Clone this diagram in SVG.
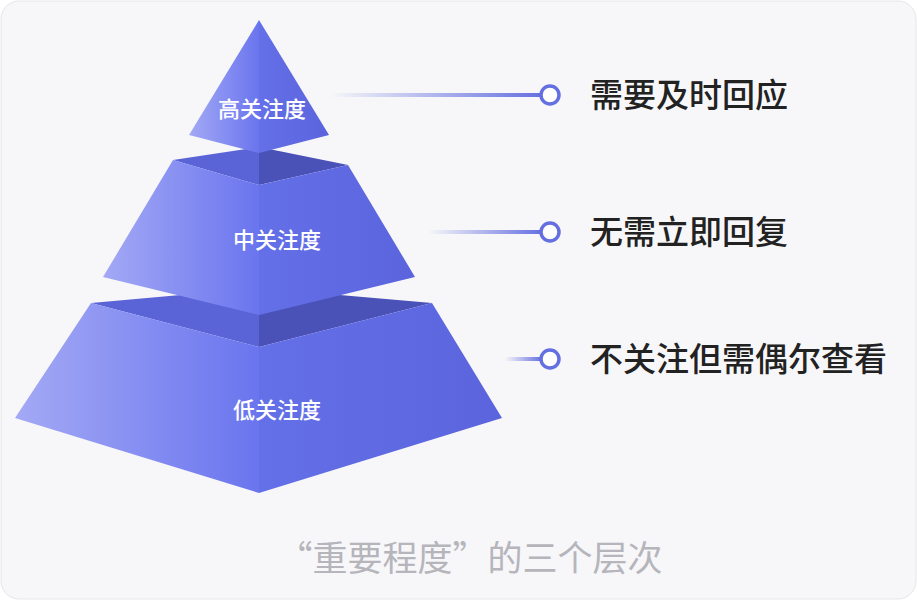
<svg xmlns="http://www.w3.org/2000/svg" width="917" height="600" viewBox="0 0 917 600">
<defs>
<linearGradient id="lf" x1="0" y1="0" x2="1" y2="0"><stop offset="0" stop-color="#a3a9f5"/><stop offset="1" stop-color="#6a75ee"/></linearGradient>
<linearGradient id="rf" x1="0" y1="0" x2="1" y2="0"><stop offset="0" stop-color="#6470e8"/><stop offset="1" stop-color="#5b64dc"/></linearGradient>
<linearGradient id="ln" x1="0" y1="0" x2="1" y2="0"><stop offset="0" stop-color="#6570e0" stop-opacity="0"/><stop offset="1" stop-color="#6570e0"/></linearGradient>
<style>
.lf{fill:url(#lf)}.rf{fill:url(#rf)}.tl{fill:#5b64d6}.tr{fill:#4a52b8}
.in{font-family:"Noto Sans CJK SC",sans-serif;font-size:22px;font-weight:500;fill:#fff;text-anchor:middle}
.lb{font-family:"Noto Sans CJK SC",sans-serif;font-size:33px;font-weight:500;fill:#222}
.dot{fill:#fff;stroke:#6570e0;stroke-width:3.5}
</style>
</defs>
<rect x="1" y="1" width="915" height="598" rx="18" fill="#f7f7f9" stroke="#e6e6ea"/>
<g id="low">
<polygon class="tl" points="91,303 259,288 259,347"/>
<polygon class="tr" points="259,288 432,303 259,347"/>
<polygon class="lf" points="91,303 259,347 259,493 15,418"/>
<polygon class="rf" points="259,347 432,303 502,418 259,493"/>
<text class="in" x="277" y="418">低关注度</text>
</g>
<g id="mid">
<polygon class="tl" points="173,160 259,147 259,185"/>
<polygon class="tr" points="259,147 348,165 259,185"/>
<polygon class="lf" points="173,160 259,185 259,315 103,277"/>
<polygon class="rf" points="259,185 348,165 415,277 259,315"/>
<text class="in" x="277" y="248">中关注度</text>
</g>
<g id="high">
<polygon class="lf" points="259,20 259,153 189,135"/>
<polygon class="rf" points="259,20 329,135 259,153"/>
<text class="in" x="262" y="117">高关注度</text>
</g>
<g id="connectors">
<rect x="330" y="93" width="212" height="4" fill="url(#ln)"/>
<rect x="428" y="230" width="114" height="4" fill="url(#ln)"/>
<rect x="505" y="357" width="37" height="4" fill="url(#ln)"/>
<circle class="dot" cx="550" cy="95" r="9"/>
<circle class="dot" cx="550" cy="232" r="9"/>
<circle class="dot" cx="550" cy="359" r="9"/>
</g>
<text class="lb" x="590" y="107">需要及时回应</text>
<text class="lb" x="590" y="244">无需立即回复</text>
<text class="lb" x="590" y="371">不关注但需偶尔查看</text>
<text x="470" y="571" font-family="Noto Sans CJK SC,sans-serif" font-size="35" fill="#b5b5bb" text-anchor="middle">“重要程度”的三个层次</text>
</svg>
